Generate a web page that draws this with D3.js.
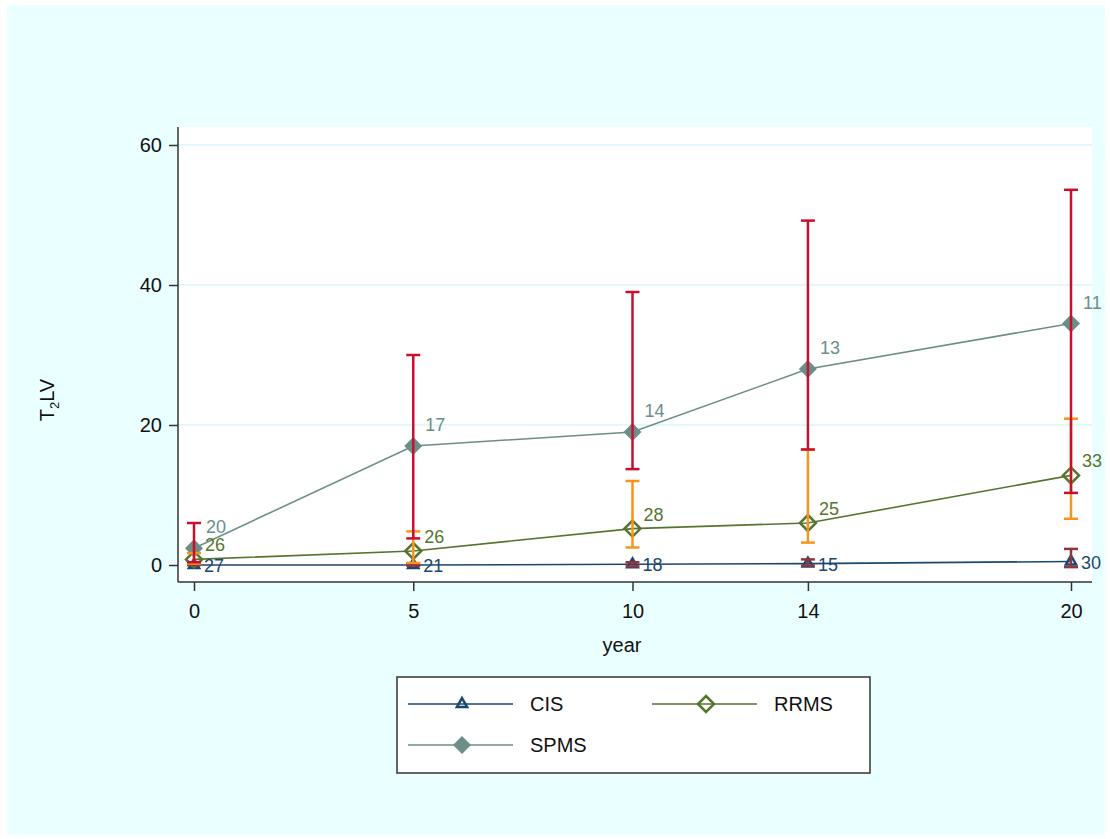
<!DOCTYPE html>
<html><head><meta charset="utf-8">
<script src="https://cdn.jsdelivr.net/npm/d3@7/dist/d3.min.js"></script>
<style>body{margin:0;background:#fff}svg{display:block;font-family:"Liberation Sans",Arial,sans-serif}</style>
</head><body><svg id="c" width="1110" height="839"></svg>
<script>
const years = [0, 5, 10, 14, 20];
const yTicks = [0, 20, 40, 60];
const cisMean = [0, 0, 0.1, 0.2, 0.5];
const cisLo = [0, -0.1, -0.2, -0.1, -0.3];
const cisHi = [0.3, 0.2, 0.4, 0.8, 2.3];
const cisN = [27, 21, 18, 15, 30];
const rrmsMean = [0.8, 2, 5.2, 6, 12.8];
const rrmsLo = [0.2, 0.3, 2.5, 3.2, 6.6];
const rrmsHi = [1.7, 4.8, 12, 16.5, 20.9];
const rrmsN = [26, 26, 28, 25, 33];
const spmsMean = [2.4, 17, 19, 28, 34.5];
const spmsLo = [0.4, 3.8, 13.7, 16.5, 10.3];
const spmsHi = [6, 30, 39, 49.2, 53.6];
const spmsN = [20, 17, 14, 13, 11];
const seriesNames = ["CIS", "RRMS", "SPMS"];

const svg = d3.select("#c");
svg.append("rect").attr("x",7).attr("y",5).attr("width",1098).attr("height",830).attr("fill","#eaffff");
const L=178, R=1092, T=127, B=582;
svg.append("rect").attr("x",L).attr("y",T).attr("width",R-L).attr("height",B-T).attr("fill","#fff");
const x = d3.scaleLinear().domain([0,20]).range([194,1071]);
const y = d3.scaleLinear().domain([0,60]).range([565,145]);

// grid
svg.append("g").selectAll("line").data(yTicks.filter(d=>d>0)).join("line")
  .attr("x1",L).attr("x2",R).attr("y1",d=>y(d)).attr("y2",d=>y(d))
  .attr("stroke","#d9f7fb").attr("stroke-width",1.5);

// axes
const yAx = svg.append("g").attr("transform",`translate(${L},0)`)
  .call(d3.axisLeft(y).tickValues(yTicks).tickSize(9).tickPadding(7));
yAx.select(".domain").attr("d",`M0,${T}V${B}`);
const xAx = svg.append("g").attr("transform",`translate(0,${B})`)
  .call(d3.axisBottom(x).tickValues(years).tickSize(9).tickPadding(13));
xAx.select(".domain").attr("d",`M${L},0H${R}`);
[yAx,xAx].forEach(a=>{a.selectAll("path,line").attr("stroke","#333").attr("stroke-width",1.5);
  a.selectAll("text").attr("font-size",20).attr("fill","#111").attr("font-family","Liberation Sans, Arial, sans-serif");});

svg.append("text").attr("x",622).attr("y",652).attr("text-anchor","middle").attr("font-size",20).attr("fill","#111").text("year");
const yl = svg.append("text").attr("transform","translate(54,400) rotate(-90)").attr("text-anchor","middle").attr("font-size",20).attr("fill","#111");
yl.append("tspan").text("T");
yl.append("tspan").attr("font-size",13).attr("dy",5).text("2");
yl.append("tspan").attr("dy",-5).text("LV");

const series = [
  {name:"CIS", mean:cisMean, lo:cisLo, hi:cisHi, n:cisN, col:"#1a476f", ebc:"#90353b", marker:"tri", ldx:10, ldy:7},
  {name:"RRMS", mean:rrmsMean, lo:rrmsLo, hi:rrmsHi, n:rrmsN, col:"#55752f", ebc:"#f7941d", marker:"hdia", ldx:11, ldy:-8},
  {name:"SPMS", mean:spmsMean, lo:spmsLo, hi:spmsHi, n:spmsN, col:"#6c8e88", ebc:"#c8102e", marker:"fdia", ldx:12, ldy:-15}
];
const line = d3.line().x(d=>x(d[0])).y(d=>y(d[1]));
function drawMarker(g, type, cx, cy, col){
  if(type==="tri"){
    g.append("path").attr("d",d3.symbol(d3.symbolTriangle,45)()).attr("transform",`translate(${cx},${cy})`)
     .attr("fill","none").attr("stroke",col).attr("stroke-width",2.5);
  } else if(type==="hdia"){
    g.append("path").attr("d","M0,-8L8,0L0,8L-8,0Z").attr("transform",`translate(${cx},${cy})`)
     .attr("fill","none").attr("stroke",col).attr("stroke-width",2.5);
  } else {
    g.append("path").attr("d","M0,-9L9,0L0,9L-9,0Z").attr("transform",`translate(${cx},${cy})`)
     .attr("fill",col);
  }
}
const gl = svg.append("g"), gm = svg.append("g"), ge = svg.append("g"), gt = svg.append("g");
series.forEach(s=>{
  const pts = years.map((yr,i)=>[yr,s.mean[i]]);
  gl.append("path").attr("d",line(pts)).attr("fill","none").attr("stroke",s.col).attr("stroke-width",1.6);
  pts.forEach(p=>drawMarker(gm, s.marker, x(p[0]), y(p[1]), s.col));
  years.forEach((yr,i)=>{
    const cx=x(yr);
    ge.append("line").attr("x1",cx).attr("x2",cx).attr("y1",y(s.lo[i])).attr("y2",y(s.hi[i])).attr("stroke",s.ebc).attr("stroke-width",2.5);
    [s.lo[i],s.hi[i]].forEach(v=>ge.append("line").attr("x1",cx-7).attr("x2",cx+7).attr("y1",y(v)).attr("y2",y(v)).attr("stroke",s.ebc).attr("stroke-width",2.5));
    gt.append("text").attr("x",cx+s.ldx).attr("y",y(s.mean[i])+s.ldy).attr("font-size",18).attr("fill",s.col).text(s.n[i]);
  });
});

// legend
const lg = svg.append("g");
lg.append("rect").attr("x",397).attr("y",677).attr("width",473).attr("height",96).attr("fill","#fff").attr("stroke","#333").attr("stroke-width",1.5);
const legPos = [[408,704],[652,704],[408,745]];
series.forEach((s,i)=>{
  const [lx,ly]=legPos[i];
  lg.append("line").attr("x1",lx).attr("x2",lx+105).attr("y1",ly).attr("y2",ly).attr("stroke",s.col).attr("stroke-width",1.6);
  drawMarker(lg, s.marker, lx+54, ly, s.col);
  lg.append("text").attr("x",lx+122).attr("y",ly+7).attr("font-size",20).attr("fill","#111").text(s.name);
});
</script></body></html>
